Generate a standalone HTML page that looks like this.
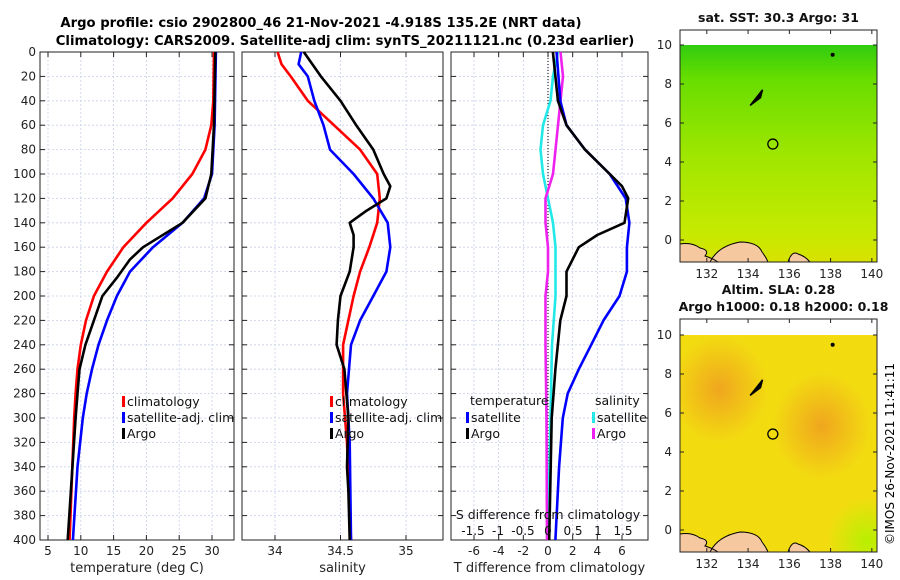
<!DOCTYPE html>
<html><head><meta charset="utf-8">
<style>
body{margin:0;background:#fff;}
svg{display:block;font-family:"DejaVu Sans","Liberation Sans",sans-serif;}
</style></head>
<body>
<svg id="fig" width="900" height="580" viewBox="0 0 900 580" xmlns="http://www.w3.org/2000/svg">
<defs>
<linearGradient id="sstg" x1="0" y1="0" x2="0" y2="1">
<stop offset="0" stop-color="#30cc10"/><stop offset="0.15" stop-color="#66dd00"/>
<stop offset="0.5" stop-color="#9ee600"/><stop offset="0.85" stop-color="#c4ea00"/><stop offset="1" stop-color="#d8e200"/>
</linearGradient>
<radialGradient id="sla1" cx="0.2" cy="0.25" r="0.25"><stop offset="0" stop-color="#f0a020" stop-opacity="0.9"/><stop offset="1" stop-color="#f0a020" stop-opacity="0"/></radialGradient>
<radialGradient id="sla2" cx="0.72" cy="0.42" r="0.25"><stop offset="0" stop-color="#f0a020" stop-opacity="0.9"/><stop offset="1" stop-color="#f0a020" stop-opacity="0"/></radialGradient>
<radialGradient id="sla3" cx="0.95" cy="0.95" r="0.2"><stop offset="0" stop-color="#b8f000"/><stop offset="1" stop-color="#b8f000" stop-opacity="0"/></radialGradient>
</defs>
<text x="321" y="27" text-anchor="middle" font-size="13.2" font-weight="bold">Argo profile: csio 2902800_46 21-Nov-2021 -4.918S 135.2E (NRT data)</text>
<text x="345" y="45" text-anchor="middle" font-size="13.2" font-weight="bold">Climatology: CARS2009. Satellite-adj clim: synTS_20211121.nc (0.23d earlier)</text>
<g id="panels"></g>
<g id="maps"></g>
<text transform="translate(894,545) rotate(-90)" font-size="12">©IMOS 26-Nov-2021 11:41:11</text>
</svg>
<script>
// depth grid
const depthTicks=[0,20,40,60,80,100,120,140,160,180,200,220,240,260,280,300,320,340,360,380,400];
// Temperature panel
const tClimD=[0,40,60,80,100,120,140,160,180,200,220,240,260,280,300,340,400];
const tClimV=[30.3,30.2,29.9,29,27,24,20,16.5,14,12,10.8,10,9.5,9.2,9,8.7,8.3];
const tSatD=[0,60,100,120,140,160,180,200,220,240,260,280,300,340,400];
const tSatV=[30.6,30.4,30,28.8,25.5,21,17.5,15.5,14,12.7,11.7,10.9,10.3,9.5,8.8];
const tArgoD=[0,60,100,120,140,160,170,185,200,220,240,260,280,300,400];
const tArgoV=[30.5,30.3,29.9,29,25.5,19.5,17.5,15.5,13.3,12,10.7,9.8,9.5,9.2,8];
const tTicks=[5,10,15,20,25,30];
// Salinity panel
const sClimD=[0,10,20,40,60,80,100,120,140,160,180,200,240,280,320,400];
const sClimV=[34.02,34.05,34.12,34.25,34.45,34.65,34.78,34.8,34.78,34.72,34.65,34.6,34.52,34.52,34.55,34.58];
const sSatD=[0,10,20,40,60,80,100,120,140,160,180,200,220,240,280,320,400];
const sSatV=[34.2,34.18,34.25,34.3,34.37,34.42,34.6,34.75,34.86,34.88,34.85,34.75,34.65,34.58,34.55,34.57,34.58];
const sArgoD=[0,20,40,60,80,100,110,120,130,140,150,160,180,200,220,240,260,300,340,360,400];
const sArgoV=[34.22,34.35,34.5,34.62,34.75,34.83,34.88,34.85,34.7,34.57,34.6,34.6,34.57,34.5,34.48,34.47,34.53,34.56,34.55,34.56,34.57];
const sTicks=[34,34.5,35];
const sTickLabels=["34","34.5","35"];
// Difference panel
const dTSatD=[0,40,60,80,100,120,140,160,180,200,220,240,260,280,300,340,400];
const dTSatV=[0.7,1,1.5,3,5,6.3,6.6,6.4,6.4,5.8,4.5,3.5,2.5,1.6,1.2,0.9,0.6];
const dTArgoD=[0,40,60,80,100,110,120,140,150,160,180,200,220,260,300,400];
const dTArgoV=[0.4,0.8,1.5,3,5,6,6.5,6.2,4,2.5,1.5,1.5,1,0.6,0.3,0.1];
const dSSatD=[0,20,40,60,80,100,120,140,160,200,240,300,400];
const dSSatV=[0.2,0.1,0.05,-0.1,-0.15,-0.1,0,0.1,0.15,0.15,0.08,0.05,0];
const dSArgoD=[0,20,40,60,80,100,120,140,160,180,200,240,300,400];
const dSArgoV=[0.25,0.3,0.25,0.2,0.15,0.1,-0.05,-0.05,0,0,-0.05,-0.05,-0.03,-0.02];
const dTTicks=[-6,-4,-2,0,2,4,6];
const dSTicks=[-1.5,-1,-0.5,0,0.5,1,1.5];
const dSTickLabels=["-1.5","-1","-0.5","0","0.5","1","1.5"];
// Map ticks
const lonTicks=[132,134,136,138,140];
const latTicks=[0,2,4,6,8,10];
const argoLon=135.2, argoLat=4.92;

const NS="http://www.w3.org/2000/svg";
const panels=document.getElementById('panels');
const mapsG=document.getElementById('maps');
function mk(tag,attrs,parent){const e=document.createElementNS(NS,tag);for(const k in attrs)e.setAttribute(k,attrs[k]);(parent||panels).appendChild(e);return e;}
const TOP=52,BOT=540;
const y=d=>TOP+(d/400)*(BOT-TOP);
function lin(d0,d1,r0,r1){return v=>r0+(v-d0)/(d1-d0)*(r1-r0);}

function panel(name,L,R,xf,xticks,xlabels,xtitle,showY){
  const g=mk('g',{});
  
  
  xticks.forEach(v=>{const l=mk('line',{x1:xf(v),x2:xf(v),y1:TOP,y2:BOT,stroke:'#c8d0e8','stroke-width':0.8,'stroke-dasharray':'2,2'},g);});
  depthTicks.forEach(d=>{const l=mk('line',{x1:L,x2:R,y1:y(d),y2:y(d),stroke:'#c8d0e8','stroke-width':0.8,'stroke-dasharray':'2,2'},g);
    mk('line',{x1:L,x2:L+5,y1:y(d),y2:y(d),stroke:'#222'},g);mk('line',{x1:R,x2:R-5,y1:y(d),y2:y(d),stroke:'#222'},g);
    if(showY){const t=mk('text',{x:L-4,y:y(d)+4,'text-anchor':'end','font-size':12,fill:'#222'},g);t.textContent=d;}
  });
  xticks.forEach((v,i)=>{mk('line',{x1:xf(v),x2:xf(v),y1:BOT,y2:BOT-5,stroke:'#222'},g);mk('line',{x1:xf(v),x2:xf(v),y1:TOP,y2:TOP+5,stroke:'#222'},g);
    if(xlabels){const t=mk('text',{x:xf(v),y:BOT+15,'text-anchor':'middle','font-size':12,fill:'#222'},g);t.textContent=xlabels[i];}});
  const f=mk('rect',{x:L,y:TOP,width:R-L,height:BOT-TOP,fill:'none',stroke:'#222','stroke-width':1},g);
  
  if(xtitle){const t=mk('text',{x:(L+R)/2,y:BOT+32,'text-anchor':'middle','font-size':13,fill:'#222'},g);t.textContent=xtitle;}
  return g;
}
function line(g,D,V,xf,color,name,w){
  const p=mk('polyline',{points:D.map((d,i)=>xf(V[i]).toFixed(1)+','+y(d).toFixed(1)).join(' '),fill:'none',stroke:color,'stroke-width':w||2.6,'stroke-linejoin':'round'},g);
  
}
function legend(g,x,yy,items){
  items.forEach((it,i)=>{
    const r=mk('rect',{x:x,y:yy+i*16-10,width:3,height:11,fill:it[1]},g);
    
    const t=mk('text',{x:x+5,y:yy+i*16,'font-size':12.5,fill:'#111'},g);t.textContent=it[0];
    
  });
}
// Panel 1
const xT=lin(5,30,48,212);
const g1=panel('temperature-panel',40,234,xT,tTicks,tTicks.map(String),'temperature (deg C)',true);
line(g1,tClimD,tClimV,xT,'#ff0000','climatology-temp-line');
line(g1,tSatD,tSatV,xT,'#0000ff','satellite-temp-line');
line(g1,tArgoD,tArgoV,xT,'#000000','argo-temp-line');
legend(g1,122,406,[['climatology','#f00'],['satellite-adj. clim','#00f'],['Argo','#000']]);
// Panel 2
const xS=lin(34,35,275,406);
const g2=panel('salinity-panel',242,443,xS,sTicks,sTickLabels,'salinity',false);
line(g2,sClimD,sClimV,xS,'#ff0000','climatology-sal-line');
line(g2,sSatD,sSatV,xS,'#0000ff','satellite-sal-line');
line(g2,sArgoD,sArgoV,xS,'#000000','argo-sal-line');
legend(g2,330,406,[['climatology','#f00'],['satellite-adj. clim','#00f'],['Argo','#000']]);
// Panel 3
const xD=lin(0,6,548,622);
const xDS=lin(0,1.5,548,623);
const g3=panel('difference-panel',451,648,xD,dTTicks,dTTicks.map(String),'T difference from climatology',false);
const zl=mk('line',{x1:xD(0),x2:xD(0),y1:TOP,y2:BOT,stroke:'#000','stroke-dasharray':'1,2','stroke-width':1},g3);

line(g3,dSSatD,dSSatV,xDS,'#22e8e8','satellite-sal-diff-line');
line(g3,dSArgoD,dSArgoV,xDS,'#ee22ee','argo-sal-diff-line');
line(g3,dTSatD,dTSatV,xD,'#0000ff','satellite-temp-diff-line');
line(g3,dTArgoD,dTArgoV,xD,'#000000','argo-temp-diff-line');
{const t=mk('text',{x:470,y:405,'font-size':12.5,fill:'#111'},g3);t.textContent='temperature';
 const t2=mk('text',{x:595,y:405,'font-size':12.5,fill:'#111'},g3);t2.textContent='salinity';}
legend(g3,466,422,[['satellite','#00f'],['Argo','#000']]);
legend(g3,592,422,[['satellite','#22e8e8'],['Argo','#ee22ee']]);
{const t=mk('text',{x:548,y:519,'text-anchor':'middle','font-size':12.5,fill:'#111'},g3);t.textContent='S difference from climatology';}
dSTicks.forEach((v,i)=>{const t=mk('text',{x:xDS(v),y:535,'text-anchor':'middle','font-size':12,fill:'#111'},g3);t.textContent=dSTickLabels[i];});

// Maps
function map(name,top,boxTop,bot,title,fillFn){
  const g=mk('g',{},mapsG);
  
  const L=680,R=877;
  const xl=lin(130.7,140.25,L,R);
  const yl=lin(10,0,top,top+195);
  fillFn(g,L,R,top,bot);
  // land
  const land=mk('path',{d:`M${L} ${bot} L${L} ${bot-18} Q${L+12} ${bot-20} ${L+20} ${bot-14} Q${L+30} ${bot-12} ${L+25} ${bot-6} Q${L+32} ${bot-4} ${L+38} ${bot} Z M${L+30} ${bot} Q${L+38} ${bot-16} ${L+60} ${bot-20} Q${L+78} ${bot-20} ${L+82} ${bot-10} Q${L+86} ${bot-5} ${L+88} ${bot} Z M${L+108} ${bot} Q${L+112} ${bot-12} ${L+118} ${bot-8} Q${L+125} ${bot-6} ${L+130} ${bot} Z`,fill:'#f5c8a0',stroke:'#000','stroke-width':1},g);
  
  const isl=mk('path',{d:`M${xl(134.1)} ${yl(6.9)} L${xl(134.7)} ${yl(7.7)} L${xl(134.6)} ${yl(7.3)} Z`,fill:'#000',stroke:'#000','stroke-width':1.5},g);
  
  mk('circle',{cx:xl(138.1),cy:yl(9.5),r:2,fill:'#000'},g);
  const c=mk('circle',{cx:xl(argoLon),cy:yl(argoLat),r:5,fill:'none',stroke:'#000','stroke-width':1.3},g);
  
  mk('rect',{x:L,y:boxTop,width:R-L,height:bot-boxTop,fill:'none',stroke:'#222'},g);
  lonTicks.forEach(v=>{mk('line',{x1:xl(v),x2:xl(v),y1:bot,y2:bot-4,stroke:'#222'},g);mk('line',{x1:xl(v),x2:xl(v),y1:boxTop,y2:boxTop+4,stroke:'#222'},g);
    const t=mk('text',{x:xl(v),y:bot+16,'text-anchor':'middle','font-size':12,fill:'#222'},g);t.textContent=v;});
  latTicks.forEach(v=>{mk('line',{x1:L,x2:L+4,y1:yl(v),y2:yl(v),stroke:'#222'},g);mk('line',{x1:R,x2:R-4,y1:yl(v),y2:yl(v),stroke:'#222'},g);
    const t=mk('text',{x:L-8,y:yl(v)+4,'text-anchor':'end','font-size':12,fill:'#222'},g);t.textContent=v;});
  title.forEach((s,i)=>{const t=mk('text',{x:(L+R)/2+(i?5:0),y:boxTop-8-(title.length-1-i)*17,'text-anchor':'middle','font-size':12.5,'font-weight':'bold',fill:'#111'},g);t.textContent=s;});
}
map('sst-map',45,30,262,['sat. SST: 30.3 Argo: 31'],(g,L,R,top,bot)=>{
  const r=mk('rect',{x:L,y:top,width:R-L,height:bot-top,fill:'url(#sstg)'},g);
  
});
map('sla-map',335,319,552,['Altim. SLA: 0.28','Argo h1000: 0.18 h2000: 0.18'],(g,L,R,top,bot)=>{
  const r=mk('rect',{x:L,y:top,width:R-L,height:bot-top,fill:'#f2dc10'},g);
  
  mk('rect',{x:L,y:top,width:R-L,height:bot-top,fill:'url(#sla1)'},g);
  mk('rect',{x:L,y:top,width:R-L,height:bot-top,fill:'url(#sla2)'},g);
  mk('rect',{x:L,y:top,width:R-L,height:bot-top,fill:'url(#sla3)'},g);
});
</script>
</body></html>
